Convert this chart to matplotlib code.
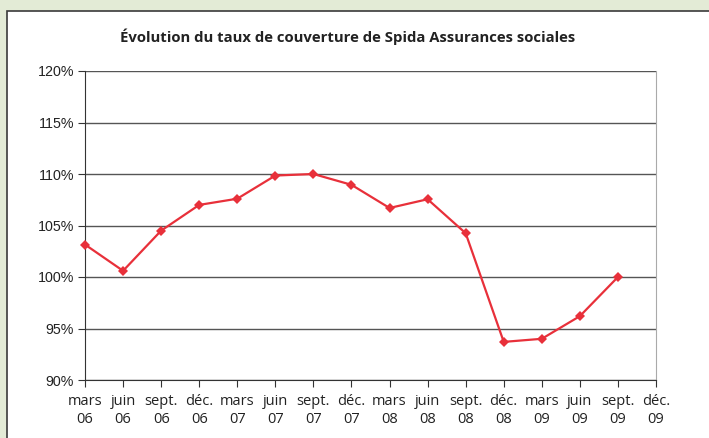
import matplotlib
matplotlib.use("Agg")
import matplotlib.pyplot as plt
from matplotlib.patches import Rectangle

months = ["mars", "juin", "sept.", "déc."] * 4
years = ["06"] * 4 + ["07"] * 4 + ["08"] * 4 + ["09"] * 4
tick_labels = [f"{m}\n{y}" for m, y in zip(months, years)]
values = [103.15, 100.6, 104.5, 107.0, 107.6, 109.85, 110.0, 108.95,
          106.7, 107.55, 104.25, 93.7, 94.0, 96.2, 100.0]
yticks = [90, 95, 100, 105, 110, 115, 120]
title = "Évolution du taux de couverture de Spida Assurances sociales"

W, H = 709, 438
fig = plt.figure(figsize=(W / 100, H / 100), dpi=100)
fig.patch.set_facecolor("#e3ebd6")
fig.patches.append(Rectangle((7 / W, -0.02), 1.05, 1 - 11 / H + 0.02,
                             transform=fig.transFigure, facecolor="white",
                             edgecolor="#3a3a3a", linewidth=1.2, zorder=-5))

ax = fig.add_axes([85 / W, 1 - 380 / H, (656 - 85) / W, (380 - 71) / H])
ax.set_facecolor("white")
ax.patch.set_alpha(0)
x = list(range(len(values)))
ax.plot(x, values, color="#e8303a", lw=1.6, marker="D", markersize=5,
        markeredgewidth=0, zorder=3, clip_on=False)

ax.set_xlim(0, len(tick_labels) - 1)
ax.set_ylim(90, 120)
ax.set_yticks(yticks)
ax.set_yticklabels([f"{v}%" for v in yticks], family="Liberation Sans",
                   fontsize=10.3, color="#222222")
ax.set_xticks(range(len(tick_labels)))
ax.set_xticklabels(tick_labels, family="Open Sans", fontsize=10.5,
                   color="#222222", linespacing=1.25)
ax.grid(axis="y", color="#555555", lw=1.0)
ax.set_axisbelow(True)
ax.spines["top"].set_visible(False)
ax.spines["right"].set_color("#aaaaaa")
ax.spines["left"].set_color("#333333")
ax.spines["bottom"].set_color("#333333")
ax.tick_params(axis="both", direction="out", length=5, color="#333333")
ax.tick_params(axis="x", pad=5)
ax.tick_params(axis="y", pad=3)

fig.text(348 / W, 1 - 37 / H, title, ha="center", va="center",
         family="Open Sans", fontweight="bold", fontsize=10.7, color="#222222")

fig.savefig("out.png", dpi=100, facecolor=fig.get_facecolor())
